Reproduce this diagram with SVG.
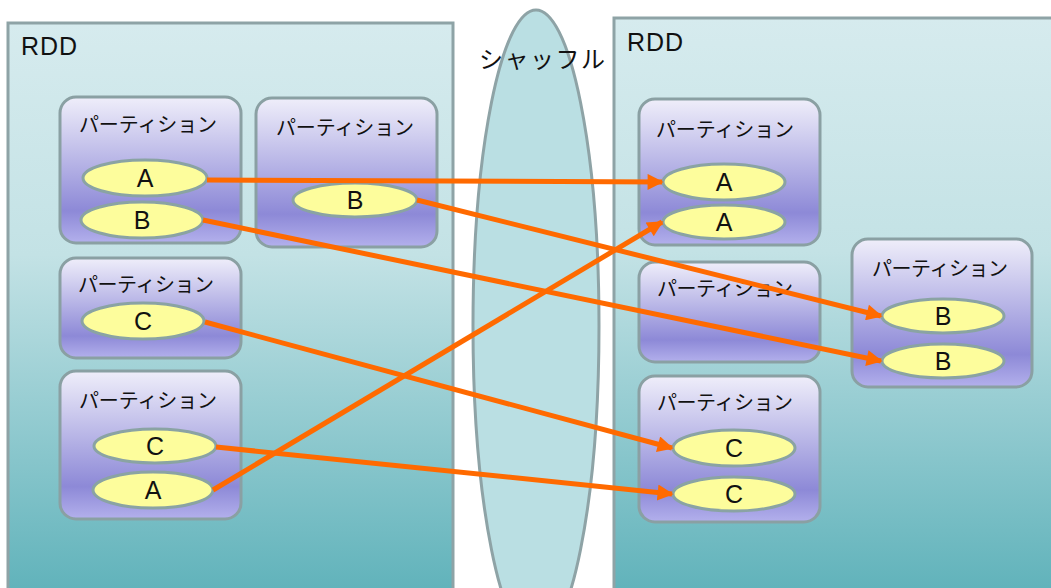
<svg xmlns="http://www.w3.org/2000/svg" width="1051" height="588" viewBox="0 0 1051 588">
<defs>
<linearGradient id="rddGrad" x1="0" y1="0" x2="0" y2="1">
<stop offset="0" stop-color="#d6ebee"/>
<stop offset="0.4" stop-color="#c3e2e5"/>
<stop offset="1" stop-color="#5db1b9"/>
</linearGradient>
<linearGradient id="partGrad" x1="0" y1="0" x2="0" y2="1">
<stop offset="0" stop-color="#efeefa"/>
<stop offset="0.25" stop-color="#d0ceef"/>
<stop offset="0.78" stop-color="#8d89d7"/>
<stop offset="1" stop-color="#b3b0ec"/>
</linearGradient>
<marker id="arrow" viewBox="0 0 10 10" refX="9" refY="5" markerWidth="4" markerHeight="3.2" orient="auto" markerUnits="strokeWidth">
<path d="M0,0 L10,5 L0,10 z" fill="#ff6a00"/>
</marker>
</defs>
<style>
.rdd{fill:url(#rddGrad);stroke:#8ea3a6;stroke-width:3}
.part{fill:url(#partGrad);stroke:#8aa0a3;stroke-width:3}
.item{fill:#fdfd9c;stroke:#8aa3a3;stroke-width:3}
.plabel{font-family:"Noto Sans CJK JP","Noto Sans",sans-serif;font-size:20px;fill:#111;text-anchor:middle}
.ilabel{font-family:"Liberation Sans",Arial,sans-serif;font-size:25px;fill:#111;text-anchor:middle}
.title{font-family:"Liberation Sans",Arial,sans-serif;font-size:25px;fill:#111}
.conn{stroke:#ff6a00;stroke-width:5;fill:none;marker-end:url(#arrow)}
</style>
<rect width="1051" height="588" fill="#ffffff"/>

<g id="rdd-left">
<rect class="rdd" x="8" y="23" width="445" height="580"/>
<text class="title" x="21" y="55" textLength="56">RDD</text>
</g>
<g id="shuffle">
<ellipse cx="536" cy="326" rx="63" ry="316" fill="#badfe3" stroke="#8ea3a6" stroke-width="3"/>
<text x="542" y="68" font-family="'Noto Sans CJK JP','Noto Sans',sans-serif" font-size="24" fill="#111" text-anchor="middle" textLength="126">シャッフル</text>
</g>
<g id="rdd-right">
<rect class="rdd" x="614" y="18" width="450" height="585"/>
<text class="title" x="627" y="51" textLength="56">RDD</text>
</g>

<g id="p1">
<rect class="part" x="60" y="97" width="181" height="146" rx="16"/>
<text class="plabel" x="148" y="132" textLength="138">パーティション</text>
<ellipse class="item" cx="145" cy="178" rx="62" ry="18"/>
<text class="ilabel" x="145" y="187">A</text>
<ellipse class="item" cx="142" cy="220" rx="61" ry="18"/>
<text class="ilabel" x="142" y="229">B</text>
</g>
<g id="p2">
<rect class="part" x="256" y="98" width="181" height="149" rx="16"/>
<text class="plabel" x="345" y="135" textLength="138">パーティション</text>
<ellipse class="item" cx="355" cy="200" rx="62" ry="17"/>
<text class="ilabel" x="355" y="209">B</text>
</g>
<g id="p3">
<rect class="part" x="60" y="258" width="181" height="100" rx="16"/>
<text class="plabel" x="146" y="292" textLength="136">パーティション</text>
<ellipse class="item" cx="143" cy="321" rx="61" ry="18"/>
<text class="ilabel" x="143" y="330">C</text>
</g>
<g id="p4">
<rect class="part" x="60" y="371" width="181" height="148" rx="16"/>
<text class="plabel" x="148" y="408" textLength="138">パーティション</text>
<ellipse class="item" cx="155" cy="446" rx="61" ry="17"/>
<text class="ilabel" x="155" y="455">C</text>
<ellipse class="item" cx="153" cy="490" rx="60" ry="18"/>
<text class="ilabel" x="153" y="499">A</text>
</g>

<g id="r1">
<rect class="part" x="639" y="99" width="181" height="146" rx="16"/>
<text class="plabel" x="725" y="137" textLength="138">パーティション</text>
<ellipse class="item" cx="724" cy="182" rx="61" ry="18"/>
<text class="ilabel" x="724" y="191">A</text>
<ellipse class="item" cx="724" cy="222" rx="61" ry="17"/>
<text class="ilabel" x="724" y="231">A</text>
</g>
<g id="r2">
<rect class="part" x="639" y="262" width="181" height="100" rx="16"/>
<text class="plabel" x="725" y="296" textLength="136">パーティション</text>
</g>
<g id="r3">
<rect class="part" x="639" y="376" width="181" height="146" rx="16"/>
<text class="plabel" x="725" y="410" textLength="136">パーティション</text>
<ellipse class="item" cx="734" cy="448" rx="61" ry="18"/>
<text class="ilabel" x="734" y="457">C</text>
<ellipse class="item" cx="734" cy="494" rx="61" ry="17"/>
<text class="ilabel" x="734" y="503">C</text>
</g>
<g id="r4">
<rect class="part" x="852" y="239" width="180" height="148" rx="16"/>
<text class="plabel" x="940" y="276" textLength="136">パーティション</text>
<ellipse class="item" cx="943" cy="316" rx="61" ry="17"/>
<text class="ilabel" x="943" y="325">B</text>
<ellipse class="item" cx="943" cy="361" rx="61" ry="17"/>
<text class="ilabel" x="943" y="370">B</text>
</g>

<g id="connectors">
<line class="conn" x1="207" y1="180" x2="662" y2="182"/>
<line class="conn" x1="203" y1="220" x2="881" y2="361"/>
<line class="conn" x1="417" y1="200" x2="881" y2="316"/>
<line class="conn" x1="205" y1="322" x2="672" y2="448"/>
<line class="conn" x1="216" y1="447" x2="672" y2="494"/>
<line class="conn" x1="213" y1="490" x2="662" y2="222"/>
</g>
</svg>
